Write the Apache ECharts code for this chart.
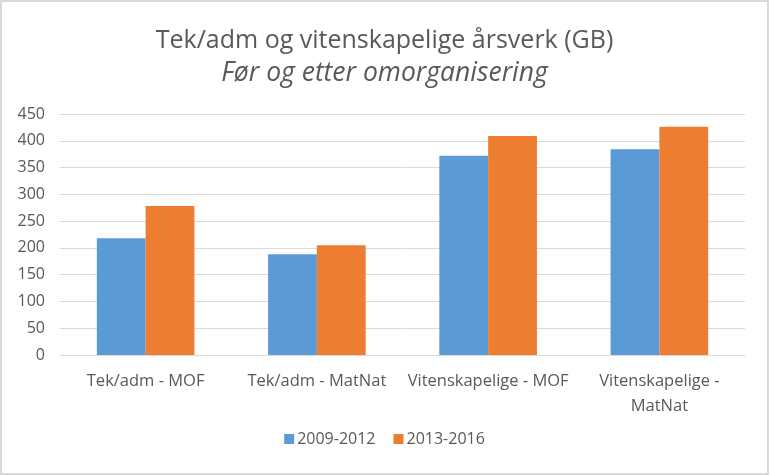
<!DOCTYPE html>
<html><head><meta charset="utf-8">
<script src="https://cdn.jsdelivr.net/npm/echarts@6/dist/echarts.min.js"></script>
<style>html,body{margin:0;padding:0;background:#fff}#c{width:765px;height:471px;border:2px solid #d9d9d9}</style>
</head><body><div id="c"></div>
<script>
const categories = ['Tek/adm - MOF', 'Tek/adm - MatNat', 'Vitenskapelige - MOF', 'Vitenskapelige -\nMatNat'];
const series1Name = '2009-2012';
const series2Name = '2013-2016';
const series1 = [218, 188, 372, 384];
const series2 = [278, 205, 409, 426];
const yTicks = { min: 0, max: 450, interval: 50 };

const chart = echarts.init(document.getElementById('c'));
const font = '"Open Sans", "Noto Sans", sans-serif';
chart.setOption({
  backgroundColor: '#fff',
  animation: false,
  title: {
    text: 'Tek/adm og vitenskapelige årsverk (GB)',
    subtext: 'Før og etter omorganisering',
    left: 'center', top: 21, itemGap: 7,
    textStyle: { fontFamily: font, fontSize: 25, fontWeight: 'normal', color: '#595959' },
    subtextStyle: { fontFamily: font, fontSize: 26.5, fontStyle: 'italic', color: '#595959' }
  },
  legend: {
    bottom: 21, left: 'center', itemWidth: 10, itemHeight: 10, itemGap: 18,
    icon: 'rect',
    textStyle: { fontFamily: font, fontSize: 16, color: '#595959', padding: [0, 0, 0, -2] },
    data: [series1Name, series2Name]
  },
  grid: { left: 58, right: 22, top: 112, bottom: 118 },
  xAxis: {
    type: 'category', data: categories,
    axisLine: { lineStyle: { color: '#d9d9d9', width: 1 } },
    axisTick: { show: false },
    axisLabel: { fontFamily: font, fontSize: 16.5, color: '#595959', margin: 14, lineHeight: 25, interval: 0 }
  },
  yAxis: {
    type: 'value', min: yTicks.min, max: yTicks.max, interval: yTicks.interval,
    axisLine: { show: false }, axisTick: { show: false },
    splitLine: { lineStyle: { color: '#d9d9d9', width: 1 } },
    axisLabel: { fontFamily: font, fontSize: 16, color: '#595959', margin: 15 }
  },
  series: [
    { name: series1Name, type: 'bar', data: series1, itemStyle: { color: '#5B9BD5' }, barGap: '0%', barCategoryGap: '43%' },
    { name: series2Name, type: 'bar', data: series2, itemStyle: { color: '#ED7D31' }, barGap: '0%', barCategoryGap: '43%' }
  ]
});
</script></body></html>
